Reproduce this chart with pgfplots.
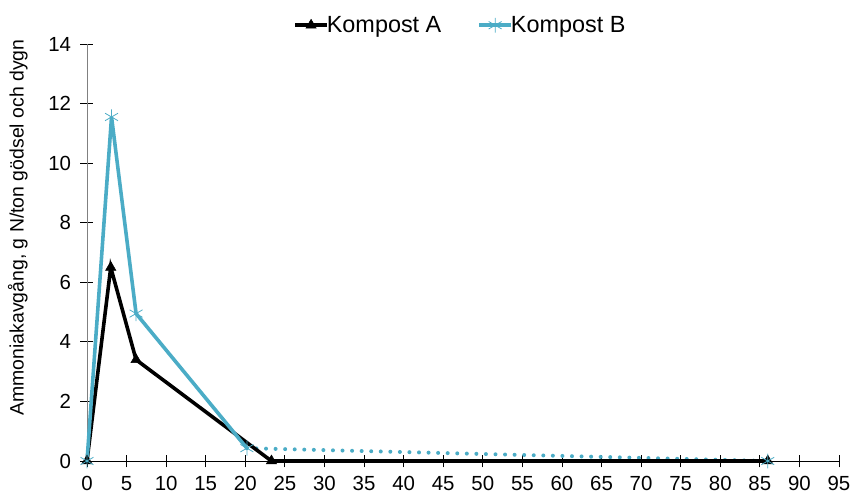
\documentclass[border=0pt]{standalone}
\usepackage{pgfplots}
\pgfplotsset{compat=1.18}
\usepackage{fontspec}
\setmainfont{Liberation Sans}
\definecolor{cB}{RGB}{75,172,198}
\begin{document}
\begin{tikzpicture}[x=1bp,y=1bp]
\path[use as bounding box] (-87bp,-37bp) rectangle (767bp,461bp);
\begin{axis}[
  at={(0,0)}, anchor=south west,
  scale only axis, width=752bp, height=417bp,
  xmin=0, xmax=95, ymin=0, ymax=14,
  xtick={0,5,...,95}, ytick={0,2,...,14},
  axis x line*=bottom, axis y line*=left,
  x axis line style={black, line width=0.8pt, -},
  y axis line style={gray, line width=0.8pt, -},
  tick style={black, line width=0.8pt},
  major tick length=13bp,
  xtick align=center, ytick align=center,
  tick label style={font=\fontsize{20.5}{22}\selectfont},
  /pgf/number format/assume math mode=true,
  xticklabel style={yshift=-5bp},
  yticklabel style={xshift=-6bp},
  legend columns=2,
  legend style={draw=none, fill=none, at={(axis description cs:0.4965,1.045)}, anchor=center,
    font=\fontsize{23.5}{25}\selectfont, /tikz/every even column/.append style={column sep=34bp},
    /tikz/every odd column/.append style={column sep=-4bp}},
  legend image code/.code={
    \draw[mark repeat=2,mark phase=2,#1] plot coordinates {(0bp,0bp) (16bp,0bp) (32bp,0bp)};
  },
  clip=false,
]
\addplot[cB, line width=4pt, dash pattern=on 0pt off 9.6pt, line cap=round, forget plot] coordinates {(20.2,0.43) (86,0)};
\addplot[black, line width=3.6pt, mark=triangle*, mark size=6pt, mark options={solid, line width=0.5pt}] coordinates {
(0,0) (3,6.5) (6.2,3.4) (23.3,0) (86,0)};
\addlegendentry{Kompost A}
\addplot[cB, line width=3.6pt, mark=asterisk, mark size=7.5pt, mark options={solid, line width=0.8pt}] coordinates {
(0,0) (3.1,11.55) (6.2,4.95) (20.2,0.43)};
\addlegendentry{Kompost B}
\addplot[cB, only marks, mark=asterisk, mark size=7.5pt, mark options={line width=0.8pt}, forget plot] coordinates {(86,0)};
\node[rotate=90, anchor=center, font=\fontsize{19.5}{21}\selectfont] at (axis description cs:-0.092,0.56) {Ammoniakavgång, g N/ton gödsel och dygn};
\end{axis}
\end{tikzpicture}
\end{document}
